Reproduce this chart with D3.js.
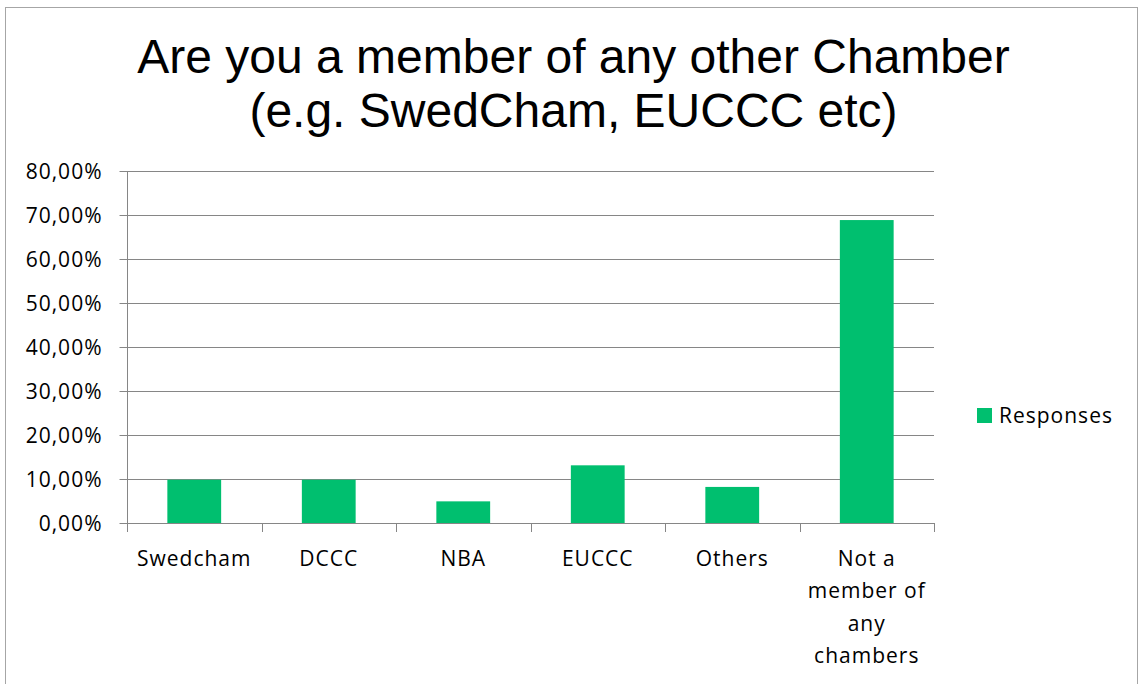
<!DOCTYPE html>
<html><head><meta charset="utf-8">
<script src="https://cdn.jsdelivr.net/npm/d3@7"></script>
<style>body{margin:0;background:#fff}svg{display:block}</style>
</head><body>
<script>
const categories = ["Swedcham","DCCC","NBA","EUCCC","Others","Not a member of any chambers"];
const categoryLines = [["Swedcham"],["DCCC"],["NBA"],["EUCCC"],["Others"],["Not a","member of","any","chambers"]];
const values = [0.0984,0.0984,0.0492,0.1311,0.0820,0.6885];
const yTicks = [0,0.1,0.2,0.3,0.4,0.5,0.6,0.7,0.8];
const titleLines = ["Are you a member of any other Chamber","(e.g. SwedCham, EUCCC etc)"];
const seriesName = "Responses";

const W=1139,H=684;
const svg=d3.select("body").append("svg").attr("width",W).attr("height",H);
svg.append("rect").attr("x",5.5).attr("y",7.5).attr("width",1132).attr("height",700)
  .attr("fill","#fff").attr("stroke","#a6a6a6").attr("stroke-width",1);

const pLeft=127,pRight=934,pTop=171,pBottom=523;
const x=d3.scaleBand().domain(categories).range([pLeft,pRight]).paddingInner(0.6).paddingOuter(0.3);
const xb=d3.scaleBand().domain(categories).range([pLeft,pRight]);
const y=d3.scaleLinear().domain([0,0.8]).range([pBottom,pTop]);
const fmt=v=>d3.format(".2f")(v*100).replace(".",",")+"%";
const font="'Open Sans', Lato, sans-serif";
const fs=21, ls=1;

// title
svg.append("g").selectAll("text").data(titleLines).join("text")
  .attr("x",573.5).attr("y",(d,i)=>73+i*54).attr("text-anchor","middle")
  .attr("font-family","'Liberation Sans', Arial, sans-serif").attr("font-size",48).attr("fill","#000")
  .text(d=>d);

// gridlines
svg.append("g").selectAll("line").data(yTicks.slice(1)).join("line")
  .attr("x1",pLeft).attr("x2",pRight).attr("y1",d=>Math.round(y(d))+0.5).attr("y2",d=>Math.round(y(d))+0.5)
  .attr("stroke","#868686").attr("stroke-width",1);

// y axis
const yAxis=svg.append("g").attr("transform",`translate(${pLeft+0.5},0)`)
  .call(d3.axisLeft(y).tickValues(yTicks).tickFormat(fmt).tickSize(8).tickPadding(17));
yAxis.select(".domain").attr("stroke","#868686").attr("d",`M0,${pTop}V${pBottom}`);
yAxis.selectAll(".tick line").attr("stroke","#868686");
yAxis.selectAll(".tick text").attr("font-family",font).attr("font-size",fs).attr("letter-spacing",ls)
  .attr("fill","#000").attr("dy","0.36em");

// bars
svg.append("g").selectAll("rect").data(values).join("rect")
  .attr("x",(d,i)=>x(categories[i])).attr("width",x.bandwidth())
  .attr("y",d=>y(d)).attr("height",d=>pBottom-y(d)).attr("fill","#00bf6f");

// x axis
const xAxis=svg.append("g").attr("transform",`translate(0,${pBottom+0.5})`)
  .call(d3.axisBottom(xb).tickSize(0).tickFormat(""));
xAxis.select(".domain").attr("stroke","#868686").attr("d",`M${pLeft},0H${pRight}`);
xAxis.selectAll(".tick").remove();
const edges=categories.map(c=>xb(c)).concat([pRight]);
svg.append("g").selectAll("line").data(edges).join("line")
  .attr("x1",d=>Math.round(d)+0.5).attr("x2",d=>Math.round(d)+0.5).attr("y1",pBottom).attr("y2",pBottom+9)
  .attr("stroke","#868686");

// category labels
const lab=svg.append("g").selectAll("text").data(categories).join("text")
  .attr("x",d=>xb(d)+xb.bandwidth()/2).attr("y",566).attr("text-anchor","middle")
  .attr("font-family",font).attr("font-size",fs).attr("letter-spacing",ls).attr("fill","#000");
lab.each(function(d,i){
  d3.select(this).selectAll("tspan").data(categoryLines[i]).join("tspan")
    .attr("x",xb(d)+xb.bandwidth()/2).attr("dy",(t,j)=>j===0?0:32.4).text(t=>t);
});

// legend
const lg=svg.append("g");
lg.append("rect").attr("x",977).attr("y",408).attr("width",15).attr("height",15).attr("fill","#00bf6f");
lg.append("text").attr("x",999).attr("y",422.5).attr("font-family",font).attr("font-size",fs).attr("letter-spacing",ls)
  .attr("fill","#000").text(seriesName);
</script>
</body></html>
